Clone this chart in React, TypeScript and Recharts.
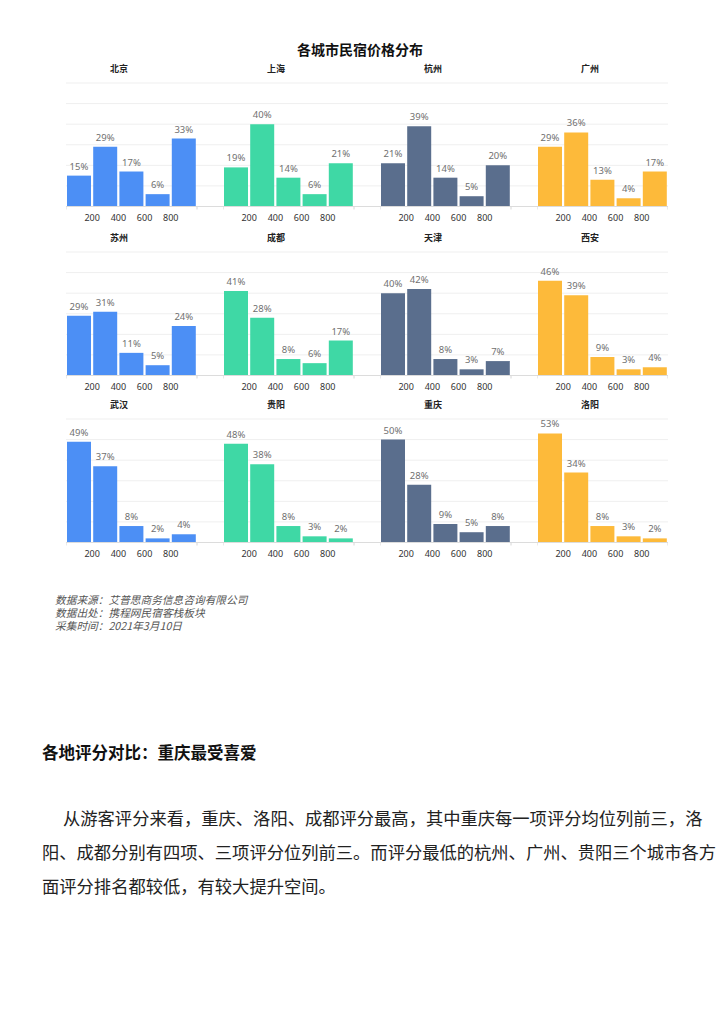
import { Bar, BarChart, CartesianGrid, LabelList, XAxis, YAxis } from "recharts";

// 价格区间 (元) 的中点, 以及刻度
const binMids = [100, 300, 500, 700, 900];
const priceTicks = [0, 200, 400, 600, 800, 1000];
const shareTicks = [0, 10, 20, 30, 40, 50, 60];

const cities = [
  "北京", "上海", "杭州", "广州",
  "苏州", "成都", "天津", "西安",
  "武汉", "贵阳", "重庆", "洛阳",
];

// 各价格区间占比 (%)
const beijing = [15, 29, 17, 6, 33];
const shanghai = [19, 40, 14, 6, 21];
const hangzhou = [21, 39, 14, 5, 20];
const guangzhou = [29, 36, 13, 4, 17];
const suzhou = [29, 31, 11, 5, 24];
const chengdu = [41, 28, 8, 6, 17];
const tianjin = [40, 42, 8, 3, 7];
const xian = [46, 39, 9, 3, 4];
const wuhan = [49, 37, 8, 2, 4];
const guiyang = [48, 38, 8, 3, 2];
const chongqing = [50, 28, 9, 5, 8];
const luoyang = [53, 34, 8, 3, 2];

const shares = [
  beijing, shanghai, hangzhou, guangzhou,
  suzhou, chengdu, tianjin, xian,
  wuhan, guiyang, chongqing, luoyang,
];

const colColors = ["#4C8FF5", "#3FD8A5", "#5A6E8D", "#FDBA3A"];
const colLeft = [66, 223, 380, 537];
const rowTop = [77.5, 246.5, 413.5];

const PLOT_W = 131;
const PLOT_H = 123.5;
const MARGIN_TOP = 5;
const AXIS_H = 20;

function PriceTick(props: any) {
  const { x, y, payload } = props;
  const v = payload.value;
  if (v === 0 || v === 1000) {
    return <line x1={x} x2={x} y1={y} y2={y + 3} stroke="#d6d6d6" />;
  }
  return (
    <text
      x={x}
      y={y + 14}
      textAnchor="middle"
      fontSize={9}
      fill="#333"
      fontFamily="Noto Sans"
    >
      {v}
    </text>
  );
}

function CityPanel({ index }: { index: number }) {
  const col = index % 4;
  const row = Math.floor(index / 4);
  const isLast = col === 3;
  // 前三列的网格和坐标轴延伸到下一个小图
  const width = isLast ? PLOT_W : 157;
  const xMax = isLast ? 1000 : (1000 * 157) / PLOT_W;
  const data = binMids.map((bin, i) => ({ bin, share: shares[index][i] }));

  return (
    <div
      style={{
        position: "absolute",
        left: colLeft[col],
        top: rowTop[row],
      }}
    >
      <div
        style={{
          position: "absolute",
          left: 53 - 30,
          width: 60,
          top: -13.5,
          textAlign: "center",
          fontSize: 9,
          fontWeight: 700,
          color: "#222",
          lineHeight: "10px",
        }}
      >
        {cities[index]}
      </div>
      <BarChart
        width={width}
        height={MARGIN_TOP + PLOT_H + AXIS_H}
        data={data}
        margin={{ top: MARGIN_TOP, right: 0, bottom: 0, left: 0 }}
        barCategoryGap={1}
      >
        <CartesianGrid vertical={false} stroke="#efefef" />
        <XAxis
          dataKey="bin"
          type="number"
          domain={[0, xMax]}
          ticks={priceTicks}
          interval={0}
          height={AXIS_H}
          tickLine={false}
          tickSize={0}
          tickMargin={0}
          axisLine={{ stroke: "#dcdcdc" }}
          tick={<PriceTick />}
        />
        <YAxis hide domain={[0, 60]} ticks={shareTicks} interval={0} />
        <Bar dataKey="share" fill={colColors[col]} isAnimationActive={false}>
          <LabelList
            dataKey="share"
            position="top"
            offset={6}
            formatter={(v: any) => `${v}%`}
            fontSize={9.5}
            fill="#707070"
            fontFamily="Noto Sans"
          />
        </Bar>
      </BarChart>
    </div>
  );
}

export default function App() {
  return (
    <div
      style={{
        position: "absolute",
        left: 0,
        top: 0,
        width: 724,
        height: 1024,
        background: "#fff",
        fontFamily: "'Noto Sans CJK SC', 'Noto Sans', sans-serif",
      }}
    >
      <div
        style={{
          position: "absolute",
          left: 0,
          width: 720,
          top: 41,
          textAlign: "center",
          fontSize: 14,
          fontWeight: 700,
          color: "#111",
          lineHeight: "16px",
        }}
      >
        各城市民宿价格分布
      </div>

      {cities.map((c, i) => (
        <CityPanel key={c} index={i} />
      ))}

      <div
        style={{
          position: "absolute",
          left: 55,
          top: 593,
          fontSize: 10.7,
          lineHeight: "13px",
          fontStyle: "italic",
          color: "#555",
          whiteSpace: "nowrap",
        }}
      >
        <div>数据来源：艾普思商务信息咨询有限公司</div>
        <div>数据出处：携程网民宿客栈板块</div>
        <div>采集时间：2021年3月10日</div>
      </div>

      <div
        style={{
          position: "absolute",
          left: 42,
          top: 743,
          fontSize: 16.5,
          fontWeight: 700,
          lineHeight: "18px",
          color: "#111",
          whiteSpace: "nowrap",
        }}
      >
        各地评分对比：重庆最受喜爱
      </div>

      <div
        style={{
          position: "absolute",
          left: 42,
          top: 801,
          fontSize: 17.3,
          lineHeight: "34px",
          color: "#222",
          whiteSpace: "nowrap",
        }}
      >
        <div style={{ paddingLeft: 21 }}>
          从游客评分来看，重庆、洛阳、成都评分最高，其中重庆每一项评分均位列前三，洛
        </div>
        <div>
          阳、成都分别有四项、三项评分位列前三。而评分最低的杭州、广州、贵阳三个城市各方
        </div>
        <div>面评分排名都较低，有较大提升空间。</div>
      </div>
    </div>
  );
}
